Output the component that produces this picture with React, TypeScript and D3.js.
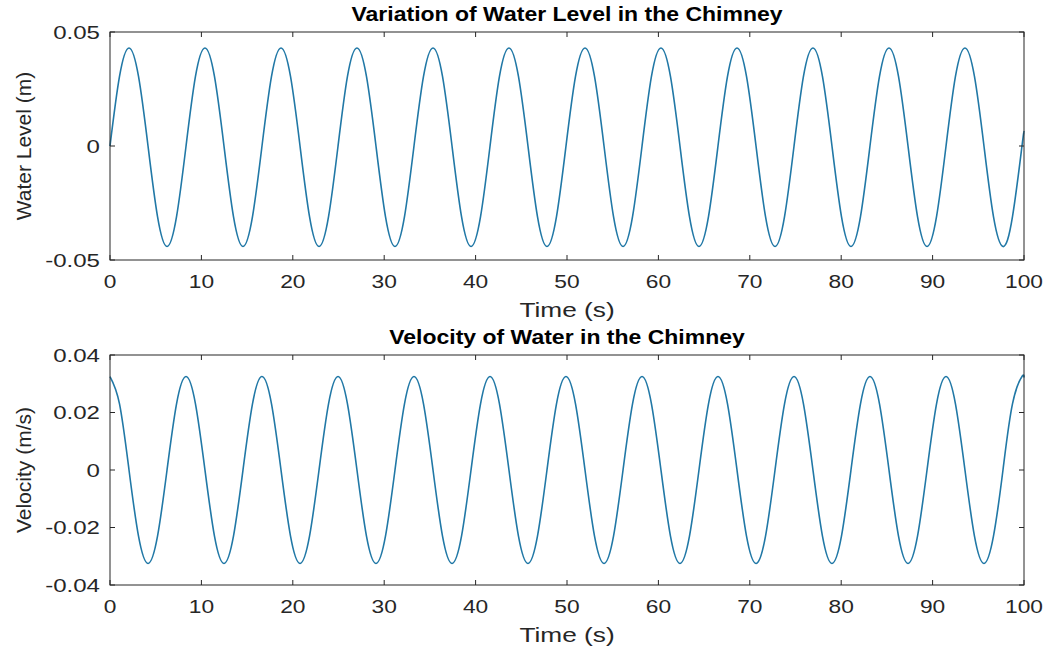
import React from "react";
import * as d3 from "d3";

// Time samples (s), read at eighth-period spacing from the picture
const timeS: number[] = [
  0, 1.04, 2.08, 3.12, 4.16, 5.2, 6.24, 7.28, 8.32, 9.35, 10.39, 11.43, 12.47, 13.51, 14.55, 15.59,
  16.63, 17.67, 18.71, 19.75, 20.79, 21.83, 22.87, 23.91, 24.95, 25.98, 27.02, 28.06, 29.1, 30.14,
  31.18, 32.22, 33.26, 34.3, 35.34, 36.38, 37.42, 38.46, 39.5, 40.54, 41.58, 42.61, 43.65, 44.69,
  45.73, 46.77, 47.81, 48.85, 49.89, 50.93, 51.97, 53.01, 54.05, 55.09, 56.13, 57.17, 58.21, 59.24,
  60.28, 61.32, 62.36, 63.4, 64.44, 65.48, 66.52, 67.56, 68.6, 69.64, 70.68, 71.72, 72.76, 73.8,
  74.84, 75.87, 76.91, 77.95, 78.99, 80.03, 81.07, 82.11, 83.15, 84.19, 85.23, 86.27, 87.31, 88.35,
  89.39, 90.43, 91.47, 92.5, 93.54, 94.58, 95.62, 96.66, 97.7, 98.74, 99.78, 100,
];

// Water level (m)
const waterLevel: number[] = [
  0, 0.0305, 0.043, 0.0305, 0, -0.031, -0.0441, -0.031,
  0, 0.0305, 0.043, 0.0305, 0, -0.031, -0.0441, -0.031,
  0, 0.0305, 0.043, 0.0305, 0, -0.031, -0.0441, -0.031,
  0, 0.0305, 0.043, 0.0305, 0, -0.031, -0.0441, -0.031,
  0, 0.0305, 0.043, 0.0305, 0, -0.031, -0.0441, -0.031,
  0, 0.0305, 0.043, 0.0305, 0, -0.031, -0.0441, -0.031,
  0, 0.0305, 0.043, 0.0305, 0, -0.031, -0.0441, -0.031,
  0, 0.0305, 0.043, 0.0305, 0, -0.031, -0.0441, -0.031,
  0, 0.0305, 0.043, 0.0305, 0, -0.031, -0.0441, -0.031,
  0, 0.0305, 0.043, 0.0305, 0, -0.031, -0.0441, -0.031,
  0, 0.0305, 0.043, 0.0305, 0, -0.031, -0.0441, -0.031,
  0, 0.0305, 0.043, 0.0305, 0, -0.031, -0.0441, -0.031,
  0, 0.006,
];

// Velocity (m/s)
const velocity: number[] = [
  0.0325, 0.023, 0, -0.023, -0.0325, -0.023, 0, 0.023,
  0.0325, 0.023, 0, -0.023, -0.0325, -0.023, 0, 0.023,
  0.0325, 0.023, 0, -0.023, -0.0325, -0.023, 0, 0.023,
  0.0325, 0.023, 0, -0.023, -0.0325, -0.023, 0, 0.023,
  0.0325, 0.023, 0, -0.023, -0.0325, -0.023, 0, 0.023,
  0.0325, 0.023, 0, -0.023, -0.0325, -0.023, 0, 0.023,
  0.0325, 0.023, 0, -0.023, -0.0325, -0.023, 0, 0.023,
  0.0325, 0.023, 0, -0.023, -0.0325, -0.023, 0, 0.023,
  0.0325, 0.023, 0, -0.023, -0.0325, -0.023, 0, 0.023,
  0.0325, 0.023, 0, -0.023, -0.0325, -0.023, 0, 0.023,
  0.0325, 0.023, 0, -0.023, -0.0325, -0.023, 0, 0.023,
  0.0325, 0.023, 0, -0.023, -0.0325, -0.023, 0, 0.023,
  0.0325, 0.0322,
];

const xTicks: number[] = [0, 10, 20, 30, 40, 50, 60, 70, 80, 90, 100];
const levelTicks: number[] = [-0.05, 0, 0.05];
const levelTickLabels: string[] = ["-0.05", "0", "0.05"];
const velTicks: number[] = [-0.04, -0.02, 0, 0.02, 0.04];
const velTickLabels: string[] = ["-0.04", "-0.02", "0", "0.02", "0.04"];

const titles: string[] = ["Variation of Water Level in the Chimney", "Velocity of Water in the Chimney"];
const yLabels: string[] = ["Water Level (m)", "Velocity (m/s)"];
const xLabel = "Time (s)";

const FONT = "'Liberation Sans', Arial, Helvetica, sans-serif";
const AX = "#262626";
const LINE = "#2178a6";

type PanelProps = {
  top: number;
  bottom: number;
  values: number[];
  yDomain: [number, number];
  yTicks: number[];
  yTickLabels: string[];
  title: string;
  yLabel: string;
};

const LEFT = 110;
const RIGHT = 1024;

function Panel({ top, bottom, values, yDomain, yTicks, yTickLabels, title, yLabel }: PanelProps) {
  const x = d3.scaleLinear().domain([0, 100]).range([LEFT, RIGHT]);
  const y = d3.scaleLinear().domain(yDomain).range([bottom, top]);
  const line = d3
    .line<number>()
    .x((_, i) => x(timeS[i]))
    .y((d) => y(d))
    .curve(d3.curveNatural);
  const pts = values;
  const tl = 5;
  const cx = (LEFT + RIGHT) / 2;
  const cy = (top + bottom) / 2;
  return (
    <g>
      <rect x={LEFT} y={top} width={RIGHT - LEFT} height={bottom - top} fill="#fff" />
      <path d={line(pts) || ""} fill="none" stroke={LINE} strokeWidth={1.6} strokeLinejoin="round" />
      <rect x={LEFT} y={top} width={RIGHT - LEFT} height={bottom - top} fill="none" stroke={AX} strokeWidth={1} />
      {xTicks.map((t) => (
        <g key={"xt" + t}>
          <line x1={x(t)} x2={x(t)} y1={bottom} y2={bottom - tl} stroke={AX} />
          <line x1={x(t)} x2={x(t)} y1={top} y2={top + tl} stroke={AX} />
          <text
            transform={`translate(${x(t)},${bottom + 28}) scale(1.23,1)`}
            textAnchor="middle"
            fontFamily={FONT}
            fontSize={18.5}
            fill={AX}
          >
            {t}
          </text>
        </g>
      ))}
      {yTicks.map((v, i) => (
        <g key={"yt" + i}>
          <line x1={LEFT} x2={LEFT + tl} y1={y(v)} y2={y(v)} stroke={AX} />
          <line x1={RIGHT} x2={RIGHT - tl} y1={y(v)} y2={y(v)} stroke={AX} />
          <text
            transform={`translate(${LEFT - 10},${y(v) + 6.5}) scale(1.3,1)`}
            textAnchor="end"
            fontFamily={FONT}
            fontSize={18.5}
            fill={AX}
          >
            {yTickLabels[i]}
          </text>
        </g>
      ))}
      <text
        transform={`translate(${cx},${bottom + 57}) scale(1.25,1)`}
        textAnchor="middle"
        fontFamily={FONT}
        fontSize={21}
        fill={AX}
      >
        {xLabel}
      </text>
      <text
        transform={`translate(31,${cy}) rotate(-90)`}
        textAnchor="middle"
        fontFamily={FONT}
        fontSize={21}
        fill={AX}
      >
        {yLabel}
      </text>
      <text
        transform={`translate(${cx},${top - 11}) scale(1.15,1)`}
        textAnchor="middle"
        fontFamily={FONT}
        fontSize={20}
        fontWeight="bold"
        fill="#000"
      >
        {title}
      </text>
    </g>
  );
}

export default function App() {
  return (
    <svg
      width={1047}
      height={647}
      style={{ position: "absolute", left: 0, top: 0, display: "block", background: "#fff" }}
    >
      <rect x={0} y={0} width={1047} height={647} fill="#fff" />
      <Panel
        top={32}
        bottom={260}
        values={waterLevel}
        yDomain={[-0.05, 0.05]}
        yTicks={levelTicks}
        yTickLabels={levelTickLabels}
        title={titles[0]}
        yLabel={yLabels[0]}
      />
      <Panel
        top={355}
        bottom={585}
        values={velocity}
        yDomain={[-0.04, 0.04]}
        yTicks={velTicks}
        yTickLabels={velTickLabels}
        title={titles[1]}
        yLabel={yLabels[1]}
      />
    </svg>
  );
}
